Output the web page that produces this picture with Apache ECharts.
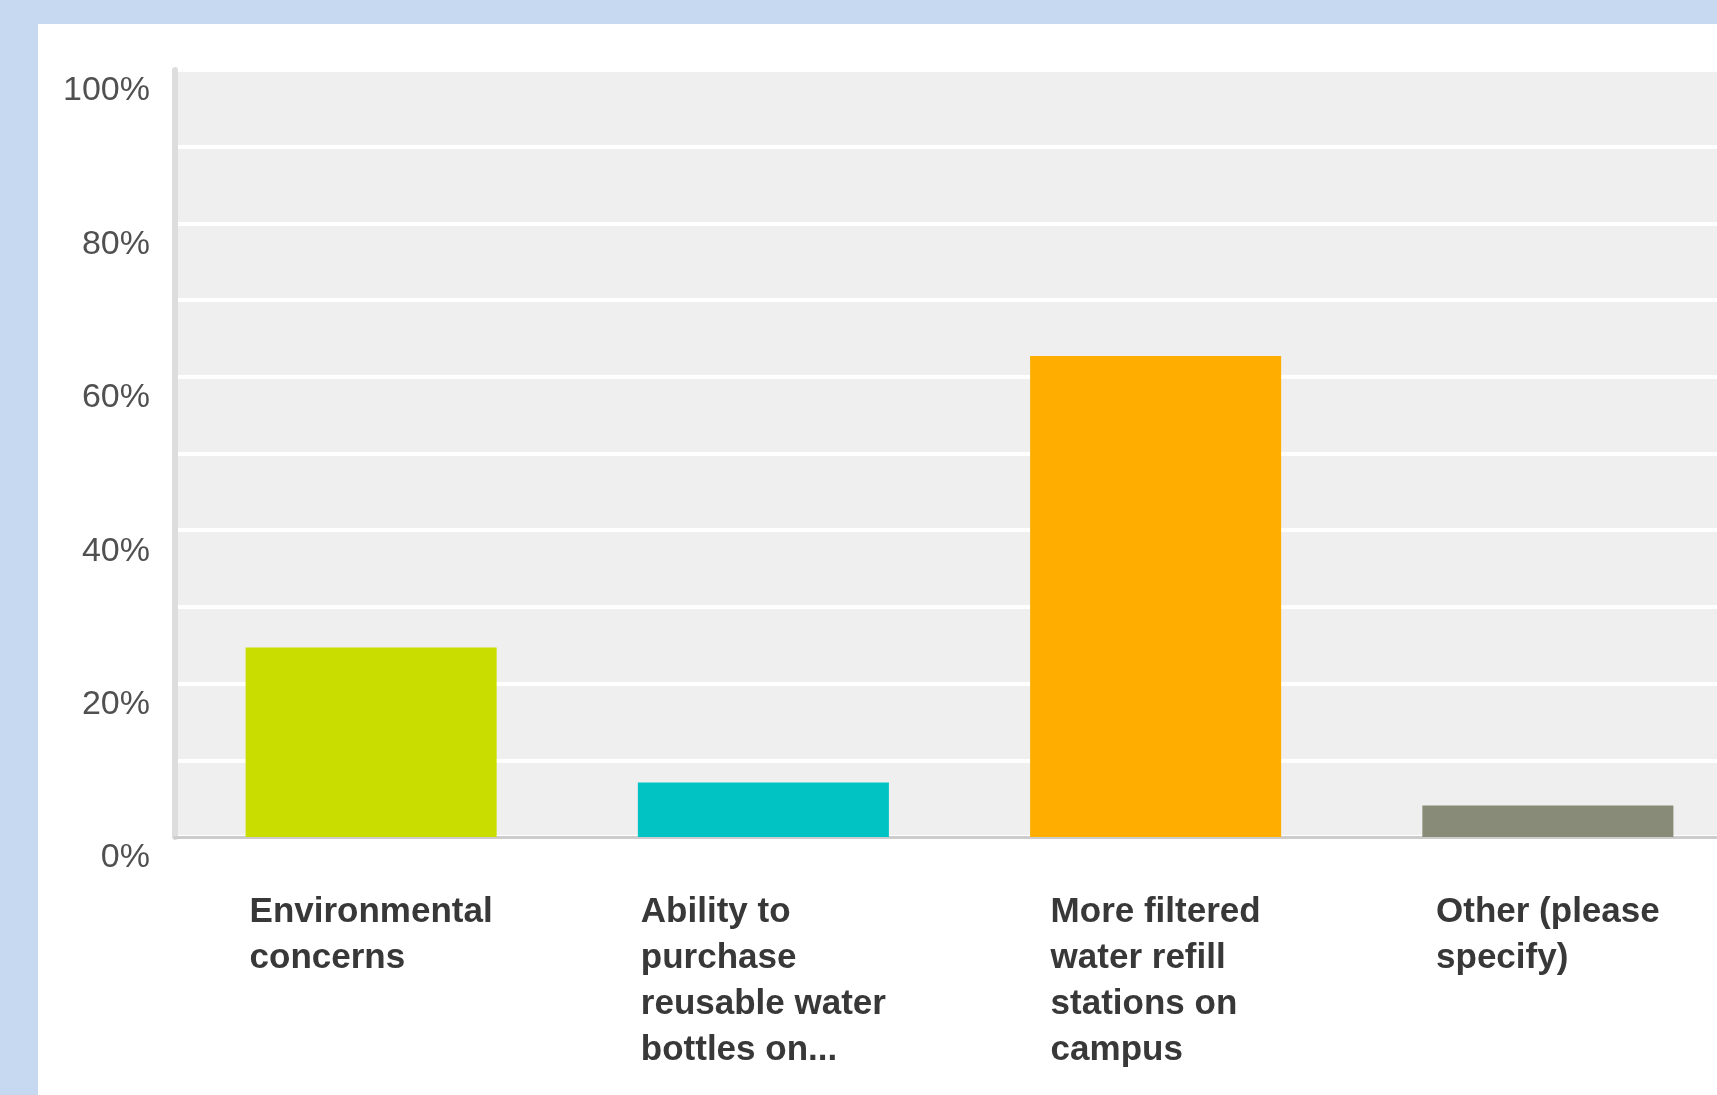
<!DOCTYPE html>
<html>
<head>
<meta charset="utf-8">
<script src="https://cdn.jsdelivr.net/npm/echarts@6/dist/echarts.min.js"></script>
<style>
  html, body { margin: 0; padding: 0; width: 1717px; height: 1095px; overflow: hidden; background: #c6d9f0; }
  #chart { position: absolute; left: 38px; top: 24px; width: 1679px; height: 1071px; background: #ffffff; }
</style>
</head>
<body>
<div id="chart"></div>
<script>
const categories = [
  'Environmental\nconcerns',
  'Ability to\npurchase\nreusable water\nbottles on...',
  'More filtered\nwater refill\nstations on\ncampus',
  'Other (please\nspecify)'
];
const values = [24.7, 7.1, 62.7, 4.1];
const barColors = ['#c9de00', '#01c3c3', '#ffae00', '#898b79'];
const yTicks = [0, 20, 40, 60, 80, 100];

const FONT = "'Liberation Sans Narrow', 'Liberation Sans', Arial, sans-serif";

const chart = echarts.init(document.getElementById('chart'), null, { renderer: 'canvas' });

const rich = {};
categories.forEach((c, i) => {
  rich['c' + i] = {
    align: 'left',
    fontFamily: FONT,
    fontWeight: 'bold',
    fontSize: 35,
    lineHeight: 46,
    color: '#383838'
  };
});

chart.setOption({
  animation: false,
  grid: {
    left: 137,
    top: 46,
    width: 1569,
    height: 767,
    show: true,
    backgroundColor: '#efefef',
    borderWidth: 0,
    outerBoundsMode: 'none',
    containLabel: false
  },
  xAxis: {
    type: 'category',
    data: categories,
    axisTick: { show: false },
    axisLine: { show: true, lineStyle: { color: '#cccccc', width: 3 } },
    axisLabel: {
      margin: 52,
      interval: 0,
      formatter: (v, i) => v.split('\n').map(l => '{c' + i + '|' + l + '}').join('\n'),
      rich: rich
    }
  },
  yAxis: {
    type: 'value',
    min: 0,
    max: 100,
    interval: 10,
    axisTick: { show: false },
    axisLine: { show: true, lineStyle: { color: '#dddddd', width: 6 } },
    splitLine: { show: true, lineStyle: { color: '#ffffff', width: 4 } },
    axisLabel: {
      margin: 25,
      fontFamily: FONT,
      fontSize: 34,
      color: '#505050',
      verticalAlign: 'top',
      lineHeight: 42,
      formatter: v => (yTicks.indexOf(v) >= 0 ? v + '%' : '')
    }
  },
  series: [{
    type: 'bar',
    data: values.map((v, i) => ({ value: v, itemStyle: { color: barColors[i] } })),
    barWidth: '64%'
  }]
});
</script>
</body>
</html>
